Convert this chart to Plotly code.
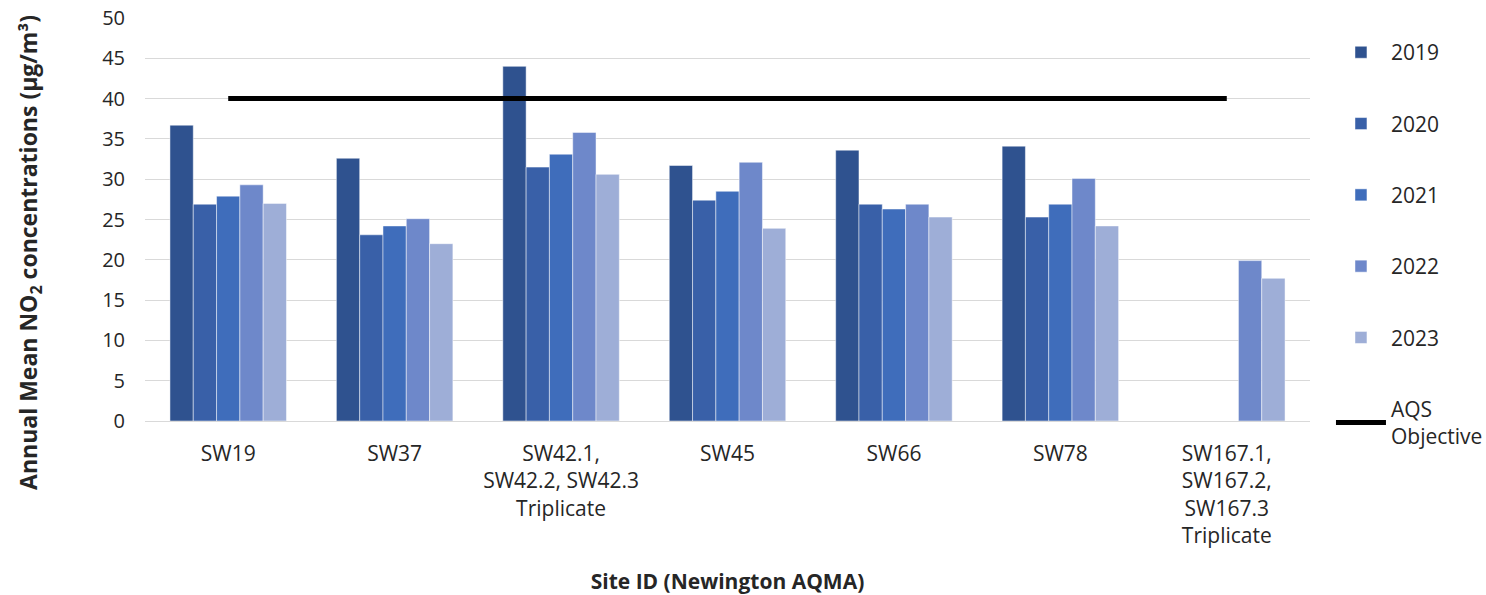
import plotly.graph_objects as go

sites = ["SW19", "SW37", "SW42.1,<br>SW42.2, SW42.3<br>Triplicate", "SW45", "SW66", "SW78",
         "SW167.1,<br>SW167.2,<br>SW167.3<br>Triplicate"]
years = ["2019", "2020", "2021", "2022", "2023"]
v2019 = [36.7, 32.6, 44.0, 31.7, 33.6, 34.1, None]
v2020 = [26.9, 23.1, 31.5, 27.4, 26.9, 25.3, None]
v2021 = [27.9, 24.2, 33.1, 28.5, 26.3, 26.9, None]
v2022 = [29.3, 25.1, 35.8, 32.1, 26.9, 30.1, 19.9]
v2023 = [27.0, 22.0, 30.6, 23.9, 25.3, 24.2, 17.7]
aqs_objective = [40] * len(sites)

series = [v2019, v2020, v2021, v2022, v2023]
colors = ["#2F528F", "#3960A8", "#3F6DBB", "#6E88CA", "#9EAED7"]

font = "Open Sans"
fig = go.Figure()
for i, (yr, vals) in enumerate(zip(years, series)):
    fig.add_trace(go.Bar(
        x=sites, y=vals, name=yr, legendgroup=yr,
        marker=dict(color=colors[i], line=dict(color="rgba(255,255,255,0.6)", width=0.8)),
    ))
fig.add_trace(go.Scatter(
    x=sites, y=aqs_objective, name="AQS<br>Objective", legendgroup="aqs",
    mode="lines", line=dict(color="black", width=5),
))

fig.update_layout(
    width=1486, height=595,
    margin=dict(l=145, r=176, t=18, b=174, autoexpand=False),
    paper_bgcolor="white", plot_bgcolor="white",
    barmode="group", bargap=0.3, bargroupgap=0,
    font=dict(family=font, size=19, color="#262626"),
    legend=dict(x=1.018, y=0.965, xanchor="left", yanchor="top",
                tracegroupgap=41, font=dict(size=21, color="#262626"),
                itemwidth=50, maxheight=580),
    showlegend=True,
    annotations=[dict(
        text="<b>Annual Mean NO<sub>2</sub> concentrations (µg/m³)</b>",
        xref="paper", yref="paper", x=-0.0987, y=0.417,
        xanchor="center", yanchor="middle", textangle=-90, showarrow=False,
        font=dict(size=23, color="#262626"),
    )],
)
fig.update_xaxes(
    showgrid=False, showline=False, ticks="", tickfont=dict(size=21),
    ticklabelstandoff=18,
    title=dict(text="<b>Site ID (Newington AQMA)</b>", font=dict(size=21), standoff=26),
    tickangle=0,
)
fig.update_yaxes(
    range=[0, 50], dtick=5, showgrid=True, gridcolor="#D9D9D9", gridwidth=1,
    zeroline=True, zerolinecolor="#D9D9D9", zerolinewidth=1, showline=False,
    tickfont=dict(size=20), ticks="", ticklabelstandoff=19,
)
fig.write_html("out.html")
